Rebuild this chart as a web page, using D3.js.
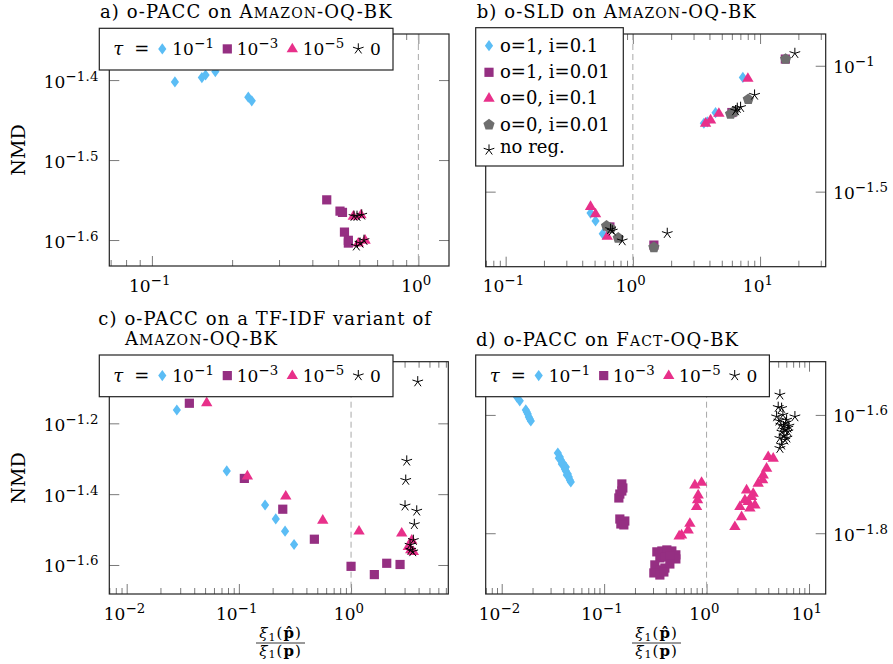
<!DOCTYPE html>
<html><head><meta charset="utf-8">
<script src="https://cdn.jsdelivr.net/npm/d3@7"></script>
<style>
body{margin:0;background:#fff}
svg{display:block}
text{font-family:"DejaVu Serif",serif;fill:#000}
</style>
</head><body>
<svg id="chart" width="893" height="664"></svg>
<script>
// ---------------- DATA (x = xi1(p^)/xi1(p), y = NMD) ----------------
// a) o-PACC on Amazon-OQ-BK
const aTau1 = [[0.122,0.0396],[0.154,0.0401],[0.159,0.0404],[0.173,0.0408],[0.230,0.0379],[0.237,0.0375]];
const aTau3 = [[0.453,0.0282],[0.508,0.0273],[0.519,0.0272],[0.528,0.0257],[0.546,0.0251],[0.546,0.0249]];
const aTau5 = [[0.570,0.0269],[0.609,0.0270],[0.595,0.0249],[0.631,0.0251]];
const aTau0 = [[0.5735,0.0269],[0.5885,0.0269],[0.613,0.0270],[0.585,0.0247],[0.604,0.0249],[0.625,0.0251]];
// b) o-SLD on Amazon-OQ-BK
const bO1I01  = [[0.465,0.0260],[0.509,0.0242],[0.580,0.0215],[3.615,0.0591],[3.845,0.0599],[4.468,0.0651],[7.324,0.0899]];
const bO1I001 = [[0.66,0.0229],[1.463,0.0194],[6.0,0.0652],[15.8,0.1063]];
const bO0I01  = [[0.465,0.0276],[0.509,0.0258],[0.629,0.0210],[3.729,0.0591],[4.082,0.0609],[4.743,0.0647],[8.019,0.0891]];
const bO0I001 = [[0.621,0.0231],[0.668,0.0226],[0.768,0.0207],[1.463,0.0190],[5.862,0.0643],[6.223,0.0657],[8.077,0.0736],[15.87,0.1063]];
const bNoReg  = [[0.668,0.0224],[0.689,0.0221],[0.825,0.0202],[1.864,0.0216],[6.418,0.0663],[6.620,0.0678],[7.027,0.0684],[9.052,0.0765],[18.77,0.1120]];
// c) o-PACC on a TF-IDF variant of Amazon-OQ-BK
const cTau1 = [[0.0280,0.0688],[0.0780,0.0463],[0.1713,0.0371],[0.2133,0.0339],[0.2581,0.0313],[0.3105,0.0287]];
const cTau3 = [[0.0362,0.0719],[0.1119,0.0441],[0.2462,0.0361],[0.471,0.0297],[1.0,0.0249],[1.613,0.0236],[2.08,0.0254],[2.734,0.0252]];
const cTau5 = [[0.0517,0.0721],[0.1191,0.0448],[0.2618,0.0393],[0.5596,0.0336],[1.178,0.0313],[2.83,0.0309],[3.475,0.0295],[3.241,0.0283],[3.405,0.0277],[3.592,0.0274]];
const cTau0 = [[3.931,0.0827],[3.137,0.0494],[3.073,0.0436],[3.029,0.0369],[3.851,0.0357],[3.666,0.0327],[3.592,0.0295],[3.357,0.0286],[3.405,0.0277],[3.547,0.0274]];
// d) o-PACC on Fact-OQ-BK
const dTau1 = [[0.01404,0.02695],[0.01502,0.02653],[0.01719,0.02561],[0.01798,0.02521],[0.01839,0.02492],[0.01925,0.02454],[0.01758,0.02541],[0.01882,0.02473],
  [0.0353,0.02166],[0.03693,0.02133],[0.03777,0.02108],[0.03952,0.02083],[0.04041,0.02059],[0.04133,0.02035],[0.04227,0.02019],[0.04421,0.01996],
  [0.04521,0.01973],[0.04624,0.0195],[0.04729,0.01935],[0.03611,0.02124],[0.03863,0.02075],[0.04227,0.02051],[0.04323,0.01988]];
const dTau3 = [[0.1489,0.0192],[0.1523,0.0189],[0.1423,0.01846],[0.1392,0.01818],[0.1489,0.01868],[0.1423,0.01675],[0.1523,0.01656],[0.1592,0.01662],
  [0.1456,0.01643],[0.1557,0.01637],[0.327,0.01474],[0.366,0.01479],[0.4095,0.01485],[0.4582,0.01479],[0.5013,0.01457],[0.5013,0.01434],
  [0.3499,0.0144],[0.3915,0.01445],[0.4381,0.01451],[0.3127,0.01401],[0.3499,0.01374],[0.3915,0.01384],[0.4381,0.01406],[0.3057,0.01358],
  [0.3499,0.01347],[0.3828,0.01363]];
const dTau5 = [[0.7686,0.01912],[0.8937,0.01932],[0.8279,0.01839],[0.8166,0.01804],[0.7987,0.01758],[0.6868,0.01647],[0.6612,0.01605],[0.57,0.01574],
  [0.54,0.01568],[1.889,0.01626],[2.197,0.0169],[2.114,0.01758],[2.366,0.01804],[2.458,0.01875],[2.751,0.01827],[2.963,0.01769],[2.648,0.01747],
  [3.191,0.01925],[3.571,0.01988],[3.524,0.0195],[3.854,0.02041],[3.996,0.02135],[4.472,0.02122],[2.852,0.01851],[2.548,0.01792]];
const dTau0 = [[5.197,0.02716],[5.003,0.02588],[5.401,0.02578],[7.283,0.02495],[4.826,0.02495],[6.042,0.02463],[5.63,0.024],[6.221,0.02354],
  [5.197,0.02294],[5.816,0.02279],[5.197,0.02206],[5.401,0.02235],[5.561,0.02512],[5.948,0.02435],[6.221,0.02388],[5.438,0.02351],
  [5.687,0.02315],[6.083,0.02297],[5.082,0.02454],[5.316,0.02416],[5.816,0.02369],[6.362,0.02407]];

// ticks & labels
const aXTicks = [0.1, 1], aXExp = ["−1","0"];
const aYTicks = [Math.pow(10,-1.4), Math.pow(10,-1.5), Math.pow(10,-1.6)], aYExp = ["−1.4","−1.5","−1.6"];
const bXTicks = [0.1, 1, 10], bXExp = ["−1","0","1"];
const bYTicks = [Math.pow(10,-1), Math.pow(10,-1.5)], bYExp = ["−1","−1.5"];
const cXTicks = [0.01, 0.1, 1], cXExp = ["−2","−1","0"];
const cYTicks = [Math.pow(10,-1.2), Math.pow(10,-1.4), Math.pow(10,-1.6)], cYExp = ["−1.2","−1.4","−1.6"];
const dXTicks = [0.01, 0.1, 1, 10], dXExp = ["−2","−1","0","1"];
const dYTicks = [Math.pow(10,-1.6), Math.pow(10,-1.8)], dYExp = ["−1.6","−1.8"];

const tauExps = ["−1","−3","−5"];
const tauZero = "0";
const bLegendLabels = ["o=1, i=0.1","o=1, i=0.01","o=0, i=0.1","o=0, i=0.01","no reg."];

// ---------------- STYLE ----------------
const COL = {diamond:"#5bbdf5", square:"#952f82", triangle:"#e8308a", pentagon:"#6e6e6e"};
function polyPath(n, r, rot){
  const p=[];for(let k=0;k<n;k++){const a=rot+k*2*Math.PI/n;p.push([r*Math.cos(a),r*Math.sin(a)]);}
  return "M"+p.map(q=>q[0].toFixed(2)+","+q[1].toFixed(2)).join("L")+"Z";
}
function starPath(r){
  let s="";for(let k=0;k<5;k++){const a=-Math.PI/2+k*2*Math.PI/5;s+="M0,0L"+(r*Math.cos(a)).toFixed(2)+","+(r*Math.sin(a)).toFixed(2);}
  return s;
}
const SHAPE = {
  diamond:"M0,-5.6L4.1,0L0,5.6L-4.1,0Z",
  square:"M-4.6,-4.6H4.6V4.6H-4.6Z",
  triangle:"M0,-6.2L5.7,3.4L-5.7,3.4Z",
  pentagon:polyPath(5,5.9,-Math.PI/2),
  star:starPath(5.6)
};
function styleMark(sel, shape){
  if(shape==="star") sel.attr("fill","none").attr("stroke","#000").attr("stroke-width",1);
  else sel.attr("fill",COL[shape]).attr("stroke","none");
}

const svg = d3.select("#chart");
const FS = 17, SUP = 13.3;

function powLabel(g, x, y, exp, anchor){
  const t = g.append("text").attr("x",x).attr("y",y).attr("text-anchor",anchor).style("font-size",FS+"px");
  t.append("tspan").text("10");
  t.append("tspan").attr("dy",-7).style("font-size",SUP+"px").style("letter-spacing","0.3px").text(exp);
  return t;
}
function title(g, x, y, parts){
  const t = g.append("text").attr("x",x).attr("y",y).style("font-size","18px").style("letter-spacing","1.1px");
  parts.forEach(p=>{const s=t.append("tspan").text(p[0]); if(p[1]) s.style("font-size","14px");});
}

const panels = [
  {L:109.3,R:449,T:34,B:266, xDom:[0.0692,1.303], yDom:[0.02331,0.04546],
   xT:aXTicks,xE:aXExp,yT:aYTicks,yE:aYExp,ySide:"left",
   series:[[aTau1,"diamond"],[aTau3,"square"],[aTau5,"triangle"],[aTau0,"star"]], legend:{type:"tau",x:99.3,y:28.3}},
  {L:485.7,R:825.7,T:34,B:266.7, xDom:[0.0697,32.8], yDom:[0.01592,0.1337],
   xT:bXTicks,xE:bXExp,yT:bYTicks,yE:bYExp,ySide:"right",
   series:[[bO1I01,"diamond"],[bO1I001,"square"],[bO0I01,"triangle"],[bO0I001,"pentagon"],[bNoReg,"star"]], legend:{type:"b",x:475.7,y:27.7}},
  {L:109.3,R:448.3,T:361.7,B:594, xDom:[0.0070,7.36], yDom:[0.0208,0.0942],
   xT:cXTicks,xE:cXExp,yT:cYTicks,yE:cYExp,ySide:"left",
   series:[[cTau1,"diamond"],[cTau3,"square"],[cTau5,"triangle"],[cTau0,"star"]], legend:{type:"tau",x:99.3,y:355}},
  {L:485.7,R:825.7,T:361.7,B:594, xDom:[0.00698,14.55], yDom:[0.01251,0.0309],
   xT:dXTicks,xE:dXExp,yT:dYTicks,yE:dYExp,ySide:"right",
   series:[[dTau1,"diamond"],[dTau3,"square"],[dTau5,"triangle"],[dTau0,"star"]], legend:{type:"tau",x:475.7,y:355}}
];

function minorTicks(dom){
  const out=[];
  for(let n=Math.floor(Math.log10(dom[0]));n<=Math.ceil(Math.log10(dom[1]));n++)
    for(let k=2;k<=9;k++){const v=k*Math.pow(10,n); if(v>=dom[0]&&v<=dom[1]) out.push(v);}
  return out;
}
function tickAxis(g, gen, scale, vals, size, tr){
  const a = g.append("g").attr("transform",tr)
    .call(gen(scale).tickValues(vals).tickSize(size).tickFormat(()=>""));
  a.select(".domain").remove();
  a.selectAll("line").attr("stroke","#7a7a7a").attr("stroke-width",1);
  a.selectAll("text").remove();
}

panels.forEach(p=>{
  const g = svg.append("g");
  const x = d3.scaleLog().domain(p.xDom).range([p.L,p.R]);
  const y = d3.scaleLog().domain(p.yDom).range([p.B,p.T]);
  const mx = minorTicks(p.xDom);
  tickAxis(g, d3.axisBottom, x, p.xT, -10, `translate(0,${p.B})`);
  tickAxis(g, d3.axisBottom, x, mx, -6, `translate(0,${p.B})`);
  tickAxis(g, d3.axisTop, x, p.xT, -10, `translate(0,${p.T})`);
  tickAxis(g, d3.axisTop, x, mx, -6, `translate(0,${p.T})`);
  tickAxis(g, d3.axisLeft, y, p.yT, -10, `translate(${p.L},0)`);
  tickAxis(g, d3.axisRight, y, p.yT, -10, `translate(${p.R},0)`);
  g.append("line").attr("x1",x(1)).attr("x2",x(1)).attr("y1",p.T).attr("y2",p.B)
    .attr("stroke","#a8a8a8").attr("stroke-width",1).attr("stroke-dasharray","6,4");
  g.append("rect").attr("x",p.L).attr("y",p.T).attr("width",p.R-p.L).attr("height",p.B-p.T)
    .attr("fill","none").attr("stroke","#222").attr("stroke-width",1.2);
  p.xT.forEach((v,i)=>powLabel(g, x(v)-2, p.B+25.5, p.xE[i], "middle"));
  p.yT.forEach((v,i)=>{
    if(p.ySide==="left") powLabel(g, p.L-10.5, y(v)+7.5, p.yE[i], "end");
    else powLabel(g, p.R+7.5, y(v)+7.5, p.yE[i], "start");
  });
  p.series.forEach(([data,shape])=>{
    const s = g.append("g").selectAll("path").data(data).join("path")
      .attr("d",SHAPE[shape]).attr("transform",d=>`translate(${x(d[0])},${y(d[1])})`);
    styleMark(s, shape);
  });
  const lg = p.legend;
  if(lg.type==="tau"){
    const W=293.7,H=41.7, by=lg.y+27, my=lg.y+20.6;
    g.append("rect").attr("x",lg.x).attr("y",lg.y).attr("width",W).attr("height",H)
      .attr("fill","#fff").attr("stroke","#222").attr("stroke-width",1.2);
    g.append("text").attr("x",lg.x+14).attr("y",by).style("font-size","18px").style("font-style","italic").text("τ");
    g.append("text").attr("x",lg.x+35).attr("y",by).style("font-size","18px").text("=");
    const shapes=["diamond","square","triangle"], mxo=[63,128,193], txo=[73,137.4,203.4];
    shapes.forEach((sh,i)=>{
      styleMark(g.append("path").attr("d",SHAPE[sh]).attr("transform",`translate(${lg.x+mxo[i]},${my})`), sh);
      powLabel(g, lg.x+txo[i], by, tauExps[i], "start");
    });
    styleMark(g.append("path").attr("d",SHAPE.star).attr("transform",`translate(${lg.x+259},${my})`),"star");
    g.append("text").attr("x",lg.x+270.7).attr("y",by).style("font-size",FS+"px").text(tauZero);
  } else {
    g.append("rect").attr("x",lg.x).attr("y",lg.y).attr("width",147.6).attr("height",138.3)
      .attr("fill","#fff").attr("stroke","#222").attr("stroke-width",1.2);
    const offs=[24,50.6,76.6,103,125.3], shapes=["diamond","square","triangle","pentagon","star"];
    bLegendLabels.forEach((lab,i)=>{
      styleMark(g.append("path").attr("d",SHAPE[shapes[i]]).attr("transform",`translate(${lg.x+13.3},${lg.y+offs[i]-(i===4?3:6)})`), shapes[i]);
      g.append("text").attr("x",lg.x+24.3).attr("y",lg.y+offs[i]).style("font-size","18px").text(lab);
    });
  }
});

title(svg, 100, 18.3, [["a) o-PACC on A"],["MAZON",1],["-OQ-BK"]]);
title(svg, 476.7, 18.3, [["b) o-SLD on A"],["MAZON",1],["-OQ-BK"]]);
title(svg, 98.3, 325, [["c) o-PACC on a TF-IDF variant of"]]);
title(svg, 125, 345, [["A"],["MAZON",1],["-OQ-BK"]]);
title(svg, 476, 346, [["d) o-PACC on F"],["ACT",1],["-OQ-BK"]]);

[150, 478].forEach(cy=>{
  svg.append("text").attr("transform",`translate(25,${cy}) rotate(-90)`).attr("text-anchor","middle")
    .style("font-size","19px").text("NMD");
});
function fracLabel(cx){
  const g = svg.append("g");
  const num = g.append("text").attr("x",cx).attr("y",638.3).attr("text-anchor","middle").style("font-size","15px").style("letter-spacing","1px");
  num.append("tspan").style("font-style","italic").text("ξ");
  num.append("tspan").attr("dy",2.5).style("font-size","11px").text("1");
  num.append("tspan").attr("dy",-2.5).text("(");
  num.append("tspan").style("font-weight","bold").text("p\u0302");
  num.append("tspan").text(")");
  g.append("line").attr("x1",cx-24.5).attr("x2",cx+24.5).attr("y1",643).attr("y2",643).attr("stroke","#000").attr("stroke-width",0.8);
  const den = g.append("text").attr("x",cx).attr("y",655.5).attr("text-anchor","middle").style("font-size","15px").style("letter-spacing","1px");
  den.append("tspan").style("font-style","italic").text("ξ");
  den.append("tspan").attr("dy",2.5).style("font-size","11px").text("1");
  den.append("tspan").attr("dy",-2.5).text("(");
  den.append("tspan").style("font-weight","bold").text("p");
  den.append("tspan").text(")");
}
fracLabel(280.5);
fracLabel(656.5);
</script>
</body></html>
